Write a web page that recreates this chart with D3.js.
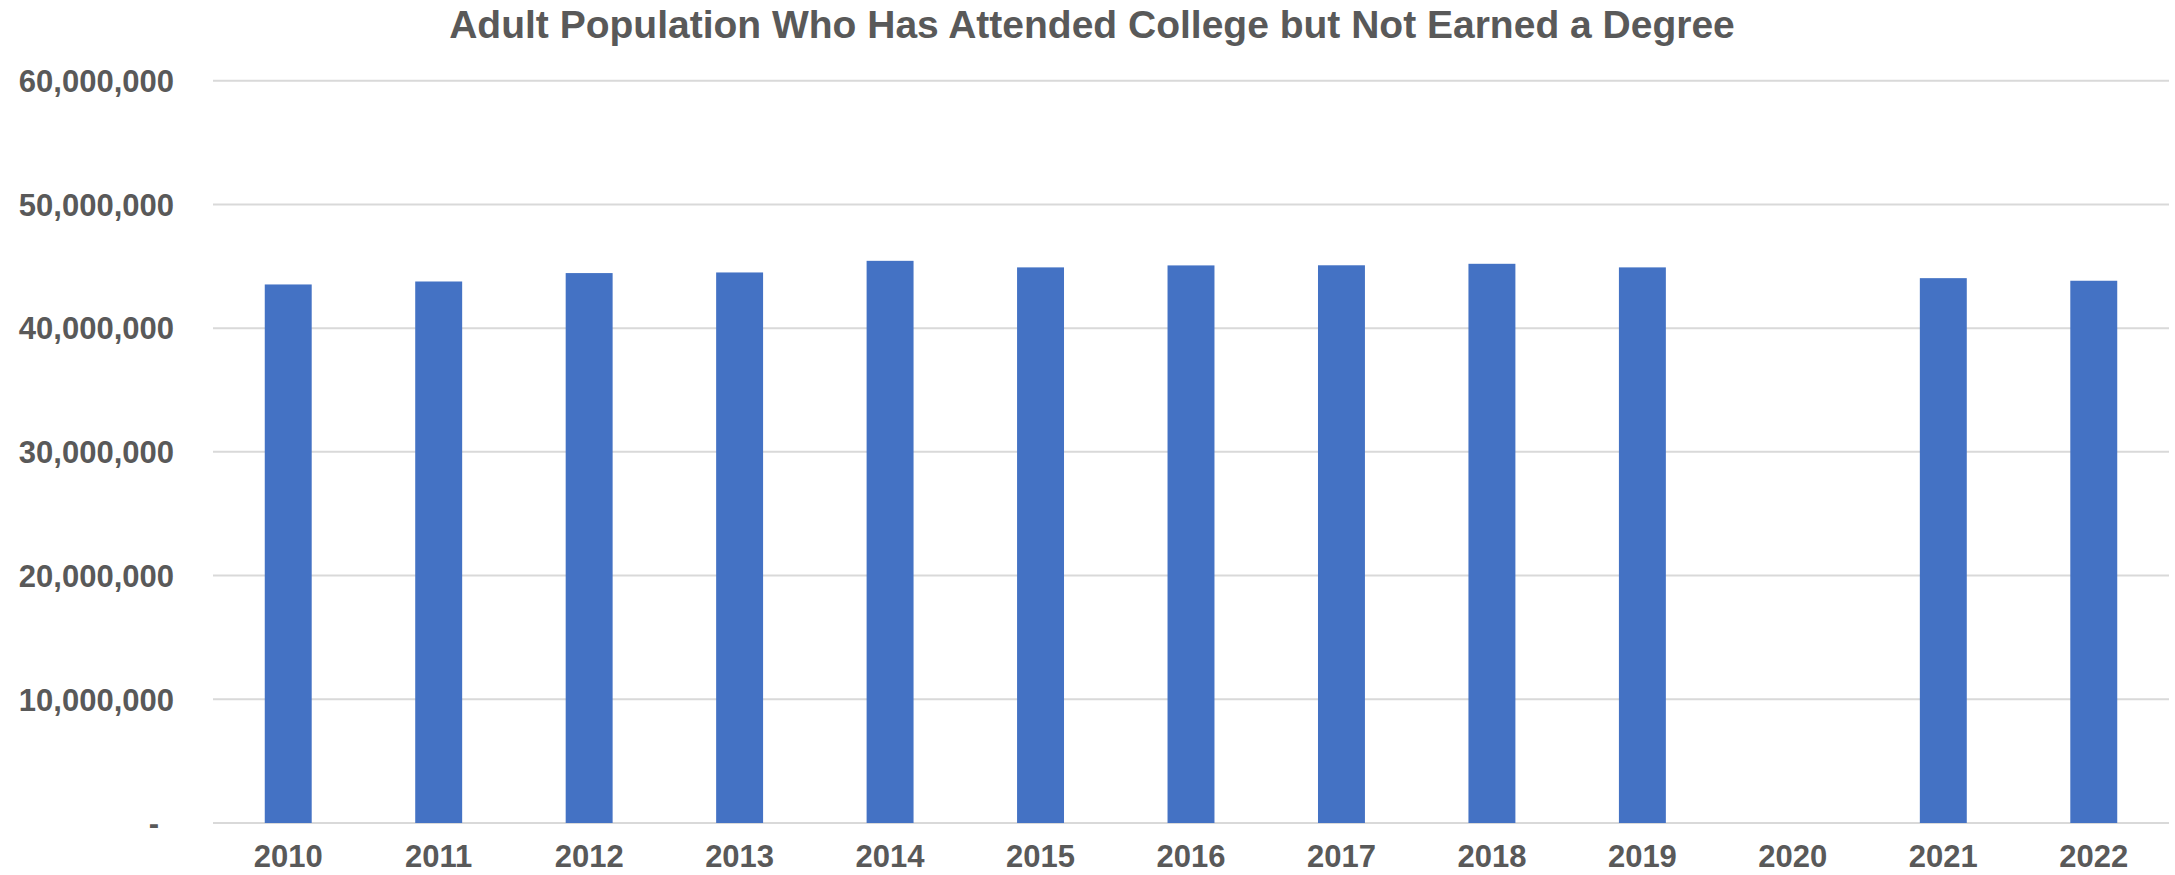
<!DOCTYPE html>
<html>
<head>
<meta charset="utf-8">
<script src="https://cdn.jsdelivr.net/npm/d3@7"></script>
<style>
  body { margin: 0; background: #fff; }
  text { font-family: "Liberation Sans", Arial, sans-serif; font-weight: bold; fill: #595959; }
</style>
</head>
<body>
<svg class="bar-chart"></svg>
<script>
const width = 2175;
const height = 875;

// Data
const years = ['2010', '2011', '2012', '2013', '2014', '2015', '2016', '2017', '2018', '2019', '2020', '2021', '2022'];
const population = [43530000, 43770000, 44450000, 44500000, 45440000, 44910000, 45070000, 45080000, 45200000, 44910000, null, 44040000, 43830000];
const yTicks = [0, 10000000, 20000000, 30000000, 40000000, 50000000, 60000000];

const svg = d3.select('.bar-chart')
    .attr('width', width)
    .attr('height', height);

// Title
svg.append('text')
    .attr('x', 1092)
    .attr('y', 38)
    .attr('text-anchor', 'middle')
    .attr('font-size', 39)
    .text('Adult Population Who Has Attended College but Not Earned a Degree');

// Scales
const xScale = d3.scaleBand()
    .domain(years)
    .range([213, 2169])
    .paddingInner(0.688)
    .paddingOuter(0.344);

const yScale = d3.scaleLinear()
    .domain([0, 60000000])
    .range([823, 80.7]);

// Gridlines
svg.append('g')
    .selectAll('line')
    .data(yTicks)
    .enter().append('line')
    .attr('x1', 213)
    .attr('x2', 2169)
    .attr('y1', d => yScale(d))
    .attr('y2', d => yScale(d))
    .attr('stroke', '#d9d9d9')
    .attr('stroke-width', 2);

// Y axis
const yAxis = d3.axisLeft(yScale)
    .tickValues(yTicks)
    .tickSize(0)
    .tickPadding(0)
    .tickFormat(d => d === 0 ? '-' : d3.format(',')(d));

const yG = svg.append('g')
    .attr('transform', 'translate(174,0)')
    .call(yAxis);
yG.select('.domain').remove();
yG.selectAll('text')
    .attr('font-size', 31)
    .attr('dy', '0.35em')
    .attr('fill', '#595959')
    .attr('dx', d => d === 0 ? -15 : 0);

// Bars
svg.append('g')
    .selectAll('rect')
    .data(years.map((y, i) => ({ year: y, value: population[i] })).filter(d => d.value !== null))
    .enter().append('rect')
    .attr('x', d => xScale(d.year))
    .attr('width', xScale.bandwidth())
    .attr('y', d => yScale(d.value))
    .attr('height', d => yScale(0) - yScale(d.value))
    .attr('fill', '#4472c4');

// X axis
const xAxis = d3.axisBottom(xScale)
    .tickSize(0)
    .tickPadding(0);

const xG = svg.append('g')
    .attr('transform', 'translate(0,856)')
    .call(xAxis);
xG.select('.domain').remove();
xG.selectAll('text')
    .attr('font-size', 31)
    .attr('dy', '0.35em')
    .attr('fill', '#595959');
</script>
</body>
</html>
